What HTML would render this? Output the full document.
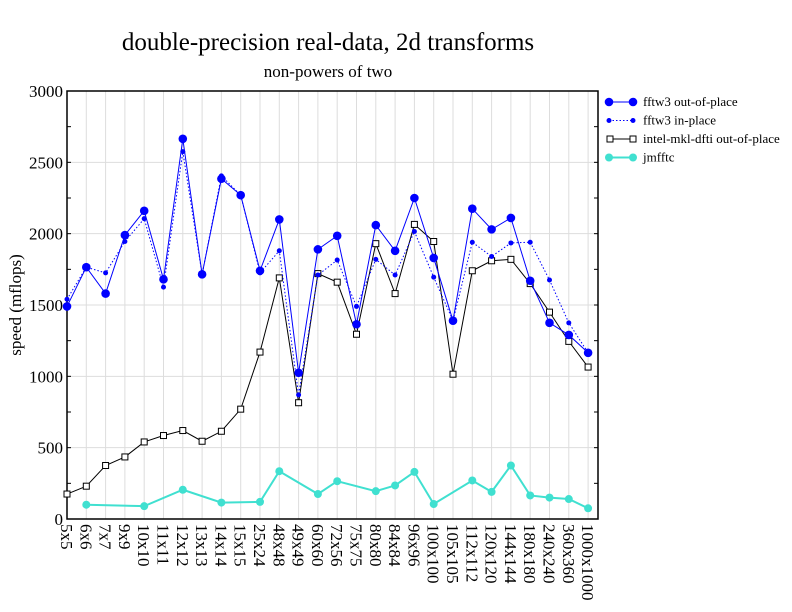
<!DOCTYPE html><html><head><meta charset="utf-8"><style>body{margin:0;background:#fff}svg{display:block}text{font-family:"Liberation Serif",serif;fill:#000}</style></head><body>
<svg id="s" width="792" height="612" xmlns="http://www.w3.org/2000/svg"></svg>
<script>
const s=document.getElementById('s');let h='';
const L=67,R=598,T=91,B=519,dx=19.3;
const X=i=>L+i*dx,Y=v=>B-v*(B-T)/3000;
const cats=["5x5","6x6","7x7","9x9","10x10","11x11","12x12","13x13","14x14","15x15","25x24","48x48","49x49","60x60","72x56","75x75","80x80","84x84","96x96","100x100","105x105","112x112","120x120","144x144","180x180","240x240","360x360","1000x1000"];
for(let i=1;i<28;i++)h+=`<line x1="${X(i)}" y1="${T}" x2="${X(i)}" y2="${B}" stroke="#ddd"/>`;
for(let v=500;v<3000;v+=500)h+=`<line x1="${L}" y1="${Y(v)}" x2="${R}" y2="${Y(v)}" stroke="#ddd"/>`;
for(let v=0;v<=3000;v+=250){h+=`<line x1="${L}" y1="${Y(v)}" x2="${L+4}" y2="${Y(v)}" stroke="#000"/><line x1="${R}" y1="${Y(v)}" x2="${R-4}" y2="${Y(v)}" stroke="#000"/>`;if(v%500==0)h+=`<text x="${L-4}" y="${Y(v)+6}" text-anchor="end" font-size="17">${v}</text>`;}
h+=`<rect x="${L}" y="${T}" width="${R-L}" height="${B-T}" fill="none" stroke="#000" stroke-width="1.5"/>`;
cats.forEach((c,i)=>h+=`<text transform="translate(${X(i)-6},${B+5}) rotate(90)" font-size="17">${c}</text>`);
const oop=[1490,1765,1580,1990,2160,1680,2665,1715,2385,2270,1740,2100,1025,1890,1985,1365,2060,1880,2250,1830,1390,2175,2030,2110,1670,1375,1290,1165];
const inp=[1540,1765,1725,1945,2105,1625,2575,1715,2405,2270,1725,1880,870,1710,1815,1490,1820,1710,2015,1695,1390,1940,1840,1935,1940,1675,1375,1165];
const mkl=[175,230,375,435,540,585,620,545,615,770,1170,1690,815,1720,1660,1295,1930,1580,2065,1945,1015,1740,1810,1820,1650,1450,1245,1065];
const ji=[1,4,6,8,10,11,13,14,16,17,18,19,21,22,23,24,25,26,27];
const jv=[100,90,205,115,120,335,175,265,195,235,330,105,270,190,375,165,150,140,75];
const pts=(idx,v)=>idx.map((i,k)=>X(i)+','+Y(v[k])).join(' ');
const all=[...Array(28).keys()];
h+=`<polyline points="${pts(all,mkl)}" fill="none" stroke="#000" stroke-width="1"/>`;
all.forEach(i=>h+=`<rect x="${X(i)-3}" y="${Y(mkl[i])-3}" width="6" height="6" fill="#fff" stroke="#000"/>`);
h+=`<polyline points="${pts(all,inp)}" fill="none" stroke="#00f" stroke-dasharray="1.5,2"/>`;
all.forEach(i=>h+=`<circle cx="${X(i)}" cy="${Y(inp[i])}" r="2.5" fill="#00f"/>`);
h+=`<polyline points="${pts(all,oop)}" fill="none" stroke="#00f" stroke-width="1"/>`;
all.forEach(i=>h+=`<circle cx="${X(i)}" cy="${Y(oop[i])}" r="4.3" fill="#00f"/>`);
h+=`<polyline points="${pts(ji,jv)}" fill="none" stroke="#40e0d0" stroke-width="2"/>`;
ji.forEach((i,k)=>h+=`<circle cx="${X(i)}" cy="${Y(jv[k])}" r="4" fill="#40e0d0"/>`);
h+=`<text x="328" y="50" text-anchor="middle" font-size="25">double-precision real-data, 2d transforms</text>`;
h+=`<text x="328" y="77" text-anchor="middle" font-size="17">non-powers of two</text>`;
h+=`<text transform="translate(21,305) rotate(-90)" text-anchor="middle" font-size="17">speed (mflops)</text>`;
const lg=[["fftw3 out-of-place","#00f",4.3,0,1],["fftw3 in-place","#00f",2.5,1,1],["intel-mkl-dfti out-of-place","#000",0,0,2],["jmfftc","#40e0d0",4,0,3]];
lg.forEach((l,k)=>{const y=102+k*18.5;h+=`<line x1="609" y1="${y}" x2="633" y2="${y}" stroke="${l[1]}" stroke-width="${k==3?2:1}" ${l[3]?'stroke-dasharray="1.5,2"':''}/>`;
if(k==2){h+=`<rect x="607" y="${y-3}" width="6" height="6" fill="#fff" stroke="#000"/><rect x="630" y="${y-3}" width="6" height="6" fill="#fff" stroke="#000"/>`}else{h+=`<circle cx="609" cy="${y}" r="${l[2]}" fill="${l[1]}"/><circle cx="633" cy="${y}" r="${l[2]}" fill="${l[1]}"/>`}
h+=`<text x="643" y="${y+4}" font-size="13">${l[0]}</text>`;});
s.innerHTML=h;
</script></body></html>
